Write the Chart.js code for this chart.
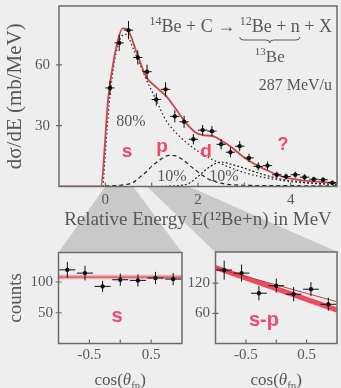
<!DOCTYPE html>
<html>
<head>
<meta charset="utf-8">
<script src="https://cdn.jsdelivr.net/npm/chart.js@4.4.1/dist/chart.umd.min.js"></script>
<style>
    html, body { margin: 0; padding: 0; background: #eeeeee; }
    body { width: 341px; height: 388px; position: relative; overflow: hidden; }
    canvas { position: absolute; }
    #topChart { left: 0; top: 0; }
    #sChart { left: 0; top: 245px; }
    #spChart { left: 183px; top: 245px; }
</style>
</head>
<body>
<canvas id="topChart" width="341" height="255"></canvas>
<canvas id="sChart" width="195" height="143"></canvas>
<canvas id="spChart" width="158" height="143"></canvas>
<script>
// --- Dados: espectro de energia relativa (painel de cima) ---
const energyMeV = [0.1, 0.3, 0.5, 0.7, 0.9, 1.1, 1.3, 1.5, 1.7, 1.9, 2.1, 2.3, 2.5, 2.7, 2.9, 3.1, 3.3, 3.5, 3.7, 3.9, 4.1, 4.3, 4.5, 4.7, 4.9];
const crossSection = [48.6, 70.8, 77.1, 63.6, 56.6, 42.9, 47.9, 34.6, 31.9, 23.3, 27.8, 27.3, 20.8, 16.9, 19.9, 14.1, 9.9, 10.3, 5.8, 4.9, 5.8, 4.6, 3.6, 3.3, 1.9];
const crossSectionErr = [3.5, 4, 4.5, 3.5, 3.5, 3, 3.5, 3, 3, 2.5, 2.5, 2.5, 2.5, 2.5, 2.5, 2, 2, 2, 1.5, 1.5, 1.5, 1.5, 1.2, 1.2, 1];
const energyHalfBin = 0.1;

const totalFitE = [-1, -0.1, 0.06, 0.15, 0.25, 0.37, 0.47, 0.67, 0.88, 1.09, 1.3, 1.52, 1.73, 1.95, 2.1, 2.31, 2.52, 2.74, 2.96, 3.18, 3.46, 3.82, 4.18, 4.54, 5];
const totalFitY = [0, 0, 43, 58, 70, 78, 77.5, 66.6, 54.1, 49.1, 44.9, 38.3, 31.6, 26.6, 25.3, 24.9, 22.4, 19.1, 14.9, 11.6, 8.3, 4.9, 3.3, 2.4, 1.6];
const sWaveE = [-0.05, 0.08, 0.2, 0.35, 0.45, 0.6, 0.75, 0.88, 1.09, 1.3, 1.59, 2.0, 2.57, 3.07, 3.8, 4.5, 5];
const sWaveY = [0, 40, 62, 74, 75, 68, 60, 53, 43, 33, 25, 17.4, 10.5, 6.4, 3, 1.5, 1];
const pWaveE = [0, 0.4, 0.6, 0.71, 0.85, 1.0, 1.2, 1.37, 1.5, 1.65, 1.95, 2.24, 2.6, 3.0, 4.0, 5.0];
const pWaveY = [0.3, 0.8, 2, 4, 6.5, 9.9, 13.5, 15.3, 15.2, 13.5, 8, 3.5, 1.2, 0.6, 0.4, 0.3];
const dWaveE = [1.2, 1.6, 1.8, 2.0, 2.17, 2.35, 2.49, 2.74, 3.0, 3.18, 3.5, 3.82, 4.2, 4.5, 5.0];
const dWaveY = [0, 0.5, 1.5, 5, 8.3, 11, 12.1, 10.8, 9, 7.6, 5.3, 3.5, 2.3, 1.6, 1];

const energyTicks = [0, 2, 4];
const energyMarks = [0, 1, 2, 3, 4];
const xsecTicks = [30, 60];

// --- Dados: distribuições angulares (painéis de baixo) ---
const cosBins = [-0.857, -0.571, -0.286, 0, 0.286, 0.571, 0.857];
const cosHalfBin = 0.13;
const countsS = [119.8, 114.5, 92.9, 103.7, 102.6, 106.5, 104.8];
const countsSErr = [13, 12, 9, 10, 10, 10, 10];
const countsSP = [146, 140, 100, 115, 98, 108, 78];
const countsSPErr = [19, 17, 14, 14, 14, 14, 13];

const fitLineX = [-1, 1];
const fitS = [108, 108];
const fitSPThick = [151, 66.6];
const fitSPThin = [150, 83];

const cosTicks = [-0.5, 0.5];
const cosMarks = [-0.5, 0, 0.5];
const countsSTicks = [50, 100];
const countsSPTicks = [60, 120];

// --- Estilo ---
const SERIF = '"Liberation Serif", "DejaVu Serif", serif';
const SANS = '"Liberation Sans", Arial, sans-serif';
const TEXT_GRAY = '#585858';
const FRAME_GRAY = '#6b6b6b';
const FIT_RED = '#c9474f';
const LABEL_RED = '#f2466a';
const WEDGE_GRAY = '#c9c9c9';

const toXY = (xs, ys) => xs.map((x, i) => ({ x, y: ys[i] }));

// --- Funções auxiliares de desenho ---

// Texto com sobrescritos/subscritos; devolve [inicio, fim] de cada parte.
function desenharTextoRico(ctx, partes, x, y, tamanho, alinhamento, cor) {
    const fonte = p => `${p.italic ? 'italic ' : ''}${p.sup || p.sub ? Math.round(tamanho * 0.66) : tamanho}px ${SERIF}`;
    ctx.save();
    ctx.fillStyle = cor || TEXT_GRAY;
    ctx.textAlign = 'left';
    ctx.textBaseline = 'alphabetic';
    let total = 0;
    partes.forEach(p => { ctx.font = fonte(p); total += ctx.measureText(p.t).width; });
    let cx = alinhamento === 'right' ? x - total : alinhamento === 'center' ? x - total / 2 : x;
    const limites = [];
    partes.forEach(p => {
        ctx.font = fonte(p);
        const dy = p.sup ? -tamanho * 0.38 : p.sub ? tamanho * 0.24 : 0;
        ctx.fillText(p.t, cx, y + dy);
        const w = ctx.measureText(p.t).width;
        limites.push([cx, cx + w]);
        cx += w;
    });
    ctx.restore();
    return limites;
}

function desenharRotuloVermelho(ctx, texto, x, y, tamanho) {
    ctx.save();
    ctx.fillStyle = LABEL_RED;
    ctx.font = `bold ${tamanho}px ${SANS}`;
    ctx.textAlign = 'center';
    ctx.textBaseline = 'alphabetic';
    ctx.fillText(texto, x, y);
    ctx.restore();
}

function desenharChave(ctx, x0, x1, yTopo) {
    const meio = (x0 + x1) / 2;
    const h = 3;
    ctx.save();
    ctx.strokeStyle = TEXT_GRAY;
    ctx.lineWidth = 1;
    ctx.beginPath();
    ctx.moveTo(x0, yTopo);
    ctx.quadraticCurveTo(x0, yTopo + h, x0 + 4, yTopo + h);
    ctx.lineTo(meio - 4, yTopo + h);
    ctx.quadraticCurveTo(meio, yTopo + h, meio, yTopo + 2 * h);
    ctx.quadraticCurveTo(meio, yTopo + h, meio + 4, yTopo + h);
    ctx.lineTo(x1 - 4, yTopo + h);
    ctx.quadraticCurveTo(x1, yTopo + h, x1, yTopo);
    ctx.stroke();
    ctx.restore();
}

function desenharMoldura(chart) {
    const { ctx, chartArea: a } = chart;
    ctx.save();
    ctx.strokeStyle = FRAME_GRAY;
    ctx.lineWidth = 1.5;
    ctx.strokeRect(a.left, a.top, a.right - a.left, a.bottom - a.top);
    ctx.restore();
}

function desenharMarcas(chart, marcasX, marcasY) {
    const { ctx, chartArea: a, scales: { x, y } } = chart;
    ctx.save();
    ctx.strokeStyle = FRAME_GRAY;
    ctx.lineWidth = 1.2;
    ctx.beginPath();
    marcasX.forEach(v => {
        const px = x.getPixelForValue(v);
        ctx.moveTo(px, a.bottom);
        ctx.lineTo(px, a.bottom - 4);
    });
    marcasY.forEach(v => {
        const py = y.getPixelForValue(v);
        ctx.moveTo(a.left - 3, py);
        ctx.lineTo(a.left + 3, py);
    });
    ctx.stroke();
    ctx.restore();
}

// Barras de erro horizontais e verticais a partir de errX / errY do dataset
function desenharErros(chart) {
    const { ctx, scales: { x, y } } = chart;
    ctx.save();
    ctx.strokeStyle = '#111';
    ctx.lineWidth = 1;
    chart.data.datasets.forEach(ds => {
        if (!ds.errY) return;
        ctx.beginPath();
        ds.data.forEach((pt, i) => {
            const px = x.getPixelForValue(pt.x);
            const py = y.getPixelForValue(pt.y);
            ctx.moveTo(x.getPixelForValue(pt.x - ds.errX), py);
            ctx.lineTo(x.getPixelForValue(pt.x + ds.errX), py);
            ctx.moveTo(px, y.getPixelForValue(pt.y - ds.errY[i]));
            ctx.lineTo(px, y.getPixelForValue(pt.y + ds.errY[i]));
        });
        ctx.stroke();
    });
    ctx.restore();
}

function opcoesEscala(min, max, ticks, tamanhoFixo, padding, horizontal) {
    return {
        type: 'linear',
        min: min,
        max: max,
        afterBuildTicks: s => { s.ticks = ticks.map(v => ({ value: v })); },
        afterFit: s => {
            // tamanho fixo e sem folga extra dos rótulos, para a área do gráfico ficar no lugar
            if (horizontal) s.height = tamanhoFixo; else s.width = tamanhoFixo;
            s.paddingTop = 0; s.paddingBottom = 0; s.paddingLeft = 0; s.paddingRight = 0;
        },
        grid: { display: false, drawTicks: false },
        border: { display: false },
        ticks: {
            padding: padding,
            color: TEXT_GRAY,
            autoSkip: false,
            maxRotation: 0,
            font: { family: SERIF, size: 15 }
        }
    };
}

const pontos = (xs, ys, errX, errY) => ({
    data: toXY(xs, ys),
    errX: errX,
    errY: errY,
    showLine: false,
    pointRadius: 2.2,
    pointBackgroundColor: '#111',
    pointBorderWidth: 0
});

const curva = (xs, ys, cor, largura, tracejado) => ({
    data: toXY(xs, ys),
    borderColor: cor,
    borderWidth: largura,
    borderDash: tracejado || [],
    pointRadius: 0,
    fill: false,
    cubicInterpolationMode: 'monotone'
});

const opcoesBase = {
    responsive: false,
    animation: false,
    events: [],
    plugins: { legend: { display: false }, tooltip: { enabled: false } }
};

// --- Gráfico de cima: dσ/dE ---
const pluginTopo = {
    id: 'decorTopo',
    beforeDraw(chart) {
        const { ctx, chartArea: a, scales: { x } } = chart;
        ctx.save();
        ctx.fillStyle = WEDGE_GRAY;
        ctx.beginPath();
        ctx.moveTo(x.getPixelForValue(0), a.bottom);
        ctx.lineTo(x.getPixelForValue(0.6), a.bottom);
        ctx.lineTo(182, 252.5);
        ctx.lineTo(58.5, 252.5);
        ctx.closePath();
        ctx.moveTo(x.getPixelForValue(0.9), a.bottom);
        ctx.lineTo(x.getPixelForValue(1.8), a.bottom);
        ctx.lineTo(339, 252.5);
        ctx.lineTo(215.5, 252.5);
        ctx.closePath();
        ctx.fill();
        ctx.restore();
    },
    afterDatasetsDraw(chart) {
        const ctx = chart.ctx;
        desenharErros(chart);
        desenharMoldura(chart);
        desenharMarcas(chart, energyMarks, xsecTicks);

        const lim = desenharTextoRico(ctx, [
            { t: '14', sup: true }, { t: 'Be + C \u2192 ' },
            { t: '12', sup: true }, { t: 'Be + n' }, { t: ' + X' }
        ], 332, 32, 18, 'right');
        const x0 = lim[2][0], x1 = lim[3][1];
        desenharChave(ctx, x0, x1, 37);
        desenharTextoRico(ctx, [{ t: '13', sup: true }, { t: 'Be' }], (x0 + x1) / 2, 61.5, 17, 'center');
        desenharTextoRico(ctx, [{ t: '287 MeV/u' }], 332, 90, 16, 'right');
        desenharTextoRico(ctx, [{ t: '80%' }], 131, 126, 16, 'center');
        desenharTextoRico(ctx, [{ t: '10%' }], 172, 181, 16, 'center');
        desenharTextoRico(ctx, [{ t: '10%' }], 224, 181, 16, 'center');

        desenharRotuloVermelho(ctx, 's', 127, 157, 19);
        desenharRotuloVermelho(ctx, 'p', 162, 152, 19);
        desenharRotuloVermelho(ctx, 'd', 206, 157, 19);
        desenharRotuloVermelho(ctx, '?', 283, 150, 18);
    }
};

const escalaEnergia = opcoesEscala(-1, 5, energyTicks, 44.5, 4.5, true);
escalaEnergia.title = {
    display: true,
    text: 'Relative Energy E(\u00b9\u00b2Be+n) in MeV',
    color: TEXT_GRAY,
    font: { family: SERIF, size: 19 },
    padding: { top: 0, bottom: 0 }
};
const escalaSecao = opcoesEscala(0, 89, xsecTicks, 59, 9, false);
escalaSecao.title = {
    display: true,
    text: 'd\u03c3/dE (mb/MeV)',
    color: TEXT_GRAY,
    font: { family: SERIF, size: 21 },
    padding: { top: 3 }
};

new Chart(document.getElementById('topChart'), {
    type: 'line',
    data: {
        datasets: [
            pontos(energyMeV, crossSection, energyHalfBin, crossSectionErr),
            curva(totalFitE, totalFitY, FIT_RED, 1.8),
            curva(sWaveE, sWaveY, '#222', 1.2, [1.5, 2.5]),
            curva(pWaveE, pWaveY, '#222', 1.2, [4, 3]),
            curva(dWaveE, dWaveY, '#222', 1.2, [2, 2])
        ]
    },
    options: Object.assign({}, opcoesBase, {
        layout: { padding: { top: 6, right: 2, left: 0, bottom: 24 } },
        scales: { x: escalaEnergia, y: escalaSecao }
    }),
    plugins: [pluginTopo]
});

// --- Gráficos de baixo: distribuições angulares ---
function pluginAngular(id, marcasY, rotulo, rx, ry) {
    return {
        id: id,
        afterDatasetsDraw(chart) {
            const { ctx, chartArea: a } = chart;
            desenharErros(chart);
            desenharMoldura(chart);
            desenharMarcas(chart, cosMarks, marcasY);
            desenharRotuloVermelho(ctx, rotulo, rx, ry, 20);
            desenharTextoRico(ctx, [
                { t: 'cos(' }, { t: '\u03b8', italic: true }, { t: 'fn', sub: true }, { t: ')' }
            ], (a.left + a.right) / 2, 140, 17, 'center');
        }
    };
}

const escalaCountsS = opcoesEscala(0, 148, countsSTicks, 58.5, 5.5, false);
escalaCountsS.title = {
    display: true,
    text: 'counts',
    color: TEXT_GRAY,
    font: { family: SERIF, size: 19 },
    padding: { top: 5 }
};

new Chart(document.getElementById('sChart'), {
    type: 'line',
    data: {
        datasets: [
            pontos(cosBins, countsS, cosHalfBin, countsSErr),
            curva(fitLineX, fitS, 'rgba(200,50,60,0.9)', 1),
            curva(fitLineX, fitS, 'rgba(238,120,130,0.55)', 4.5)
        ]
    },
    options: Object.assign({}, opcoesBase, {
        layout: { padding: { top: 7.5, right: 13, left: 0, bottom: 0 } },
        scales: {
            x: opcoesEscala(-1, 1, cosTicks, 44.5, 2.5, true),
            y: escalaCountsS
        }
    }),
    plugins: [pluginAngular('decorS', countsSTicks, 's', 117, 77)]
});

new Chart(document.getElementById('spChart'), {
    type: 'line',
    data: {
        datasets: [
            pontos(cosBins, countsSP, cosHalfBin, countsSPErr),
            curva(fitLineX, fitSPThin, '#b8404e', 1),
            curva(fitLineX, fitSPThick, '#ee4a62', 5)
        ]
    },
    options: Object.assign({}, opcoesBase, {
        layout: { padding: { top: 7, right: 2, left: 0, bottom: 0 } },
        scales: {
            x: opcoesEscala(-1, 1, cosTicks, 44.5, 2.5, true),
            y: opcoesEscala(0, 182, countsSPTicks, 32.5, 5.5, false)
        }
    }),
    plugins: [pluginAngular('decorSP', countsSPTicks, 's-p', 81, 81)]
});
</script>
</body>
</html>
